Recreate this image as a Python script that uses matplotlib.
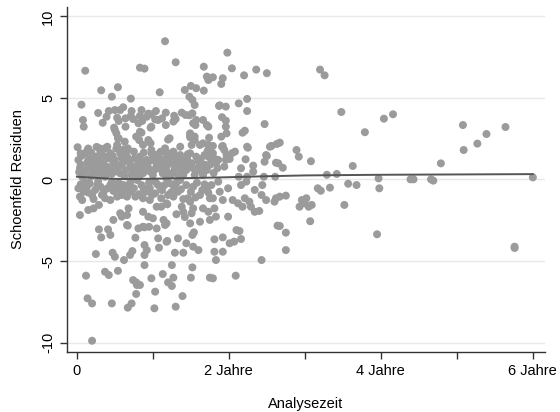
import matplotlib
matplotlib.use("Agg")
import matplotlib.pyplot as plt
import numpy as np

# ---- data (Analysezeit in Jahren, Schoenfeld-Residuen) ----
punkte_oben = [
    (0.11, 6.67), (1.16, 8.48), (1.30, 7.19), (0.83, 6.86), (0.89, 6.80), (1.67, 6.92), (1.98, 7.78),
    (2.04, 6.82), (2.36, 6.74), (2.50, 6.52), (2.20, 6.39), (1.71, 6.31), (1.79, 6.27), (1.92, 6.21),
    (1.90, 5.86), (1.42, 5.49), (1.50, 5.74), (1.57, 5.60), (1.67, 5.45), (1.09, 5.35), (0.54, 5.66),
    (0.32, 5.47), (0.46, 5.08), (0.71, 4.96), (0.06, 4.59), (1.48, 5.08), (1.52, 4.88), (1.55, 4.57),
    (2.13, 4.67), (2.24, 4.94), (2.24, 4.20), (1.88, 4.55), (1.96, 4.47), (0.28, 4.08), (0.34, 3.48),
    (0.42, 4.20), (0.50, 4.26), (0.57, 4.26), (0.61, 4.43), (0.49, 3.18), (0.50, 3.04), (0.53, 3.79),
    (0.55, 3.59), (0.64, 3.75), (0.64, 3.24), (0.71, 3.90), (0.74, 3.71), (0.72, 4.20), (0.83, 3.90),
    (0.85, 2.87), (0.86, 3.59), (0.94, 4.04), (0.98, 4.00), (1.04, 4.20), (1.03, 3.69), (0.97, 3.18),
    (0.97, 2.22), (1.17, 4.10), (1.17, 3.34), (1.12, 3.75), (1.22, 2.53), (1.28, 3.91), (1.30, 3.71),
    (1.38, 4.10), (1.43, 3.96), (1.48, 3.94), (1.52, 4.06), (1.56, 3.34), (1.57, 3.65), (1.66, 3.65),
    (1.71, 3.34), (1.49, 2.83), (1.49, 2.59), (1.55, 2.63), (1.62, 2.12), (1.66, 2.22), (1.74, 2.56),
    (1.74, 1.98), (1.87, 4.51), (1.91, 3.82), (1.96, 3.61), (1.96, 3.24), (1.97, 2.83), (1.90, 2.63),
    (1.91, 2.01), (2.18, 2.87), (2.21, 2.99), (2.47, 3.40), (2.54, 2.01), (2.63, 2.18), (0.01, 1.98),
    (0.08, 3.65), (0.09, 3.24), (0.85, 4.26), (0.92, 3.85), (1.07, 3.65), (1.27, 3.55), (1.53, 3.45),
    (1.73, 3.24), (0.83, 2.93), (0.98, 3.24), (1.20, 2.45), (0.94, 2.42), (1.73, 6.10), (0.39, 3.85),
    (0.81, 3.45), (0.54, 2.53), (0.52, 2.83), (0.78, 2.63), (0.82, 2.42),
]

punkte_band_pos = [
    (0.55, 2.53), (0.63, 2.32), (0.53, 2.12), (0.67, 1.91), (0.11, 1.61), (0.20, 1.40), (0.31, 1.71),
    (0.37, 1.91), (0.44, 1.61), (0.13, 0.99), (0.24, 0.99), (0.33, 1.09), (0.39, 0.79), (0.48, 0.99),
    (0.57, 1.61), (0.66, 1.40), (0.75, 1.71), (0.83, 1.20), (0.04, 0.69), (0.09, 0.38), (0.22, 0.58),
    (0.31, 0.48), (0.44, 0.58), (0.53, 0.69), (0.64, 0.58), (0.77, 0.69), (0.07, 0.17), (0.18, 0.17),
    (0.37, 0.17), (0.57, 0.38), (0.72, 0.28), (0.87, 2.12), (0.98, 1.81), (1.49, 2.73), (1.55, 2.42),
    (1.73, 2.12), (1.51, 2.12), (1.36, 2.01), (1.16, 1.91), (0.83, 1.40), (0.92, 1.20), (1.03, 1.50),
    (1.09, 1.09), (1.20, 1.61), (1.25, 1.20), (1.31, 1.40), (1.40, 1.09), (1.49, 1.61), (1.57, 1.40),
    (1.68, 1.50), (1.77, 1.20), (0.94, 0.69), (1.07, 0.69), (1.18, 0.79), (1.29, 0.69), (1.36, 0.89),
    (1.44, 0.58), (1.53, 0.69), (1.62, 0.79), (1.71, 0.58), (0.87, 0.38), (1.00, 0.28), (1.13, 0.38),
    (1.24, 0.28), (1.40, 0.28), (1.55, 0.28), (1.66, 0.28), (1.79, 1.61), (1.73, 1.40), (1.81, 1.28),
    (2.04, 1.61), (2.01, 1.26), (2.08, 1.71), (2.24, 2.01), (2.22, 1.24), (2.50, 1.44), (2.65, 0.99),
    (1.79, 2.06), (1.92, 2.06), (1.94, 1.81), (1.97, 1.50), (1.96, 1.20), (1.86, 1.20), (1.94, 0.79),
    (2.25, 1.95), (2.16, 0.69), (2.32, 0.85), (2.32, 0.48), (2.47, 1.09), (2.49, 1.50), (2.56, 2.06),
    (2.62, 1.03), (2.71, 0.72), (2.13, 0.17), (2.24, 0.17), (2.46, 0.17), (2.61, 0.17),
    (0.02, 1.20), (0.05, 0.90), (0.15, 1.20), (0.17, 0.75), (0.27, 1.30), (0.28, 0.30), (0.35, 1.45),
    (0.42, 1.30), (0.46, 0.35), (0.50, 1.20), (0.52, 1.90), (0.60, 1.00), (0.62, 1.85), (0.70, 0.95),
    (0.74, 0.50), (0.80, 0.90), (0.82, 0.15), (0.90, 1.00), (0.96, 0.50), (1.05, 0.90), (1.10, 1.70),
    (1.15, 0.55), (1.22, 1.00), (1.27, 0.45), (1.33, 1.15), (1.38, 0.50), (1.45, 1.30), (1.48, 0.90),
    (1.60, 1.10), (1.64, 0.50), (1.75, 0.90), (1.80, 0.40), (1.85, 0.70), (0.26, 2.00), (0.15, 1.90),
    (0.05, 1.60), (0.26, 1.40), (0.30, 1.91), (0.40, 2.01), (0.43, 1.40), (0.54, 1.91), (0.65, 1.71),
    (0.14, 1.81), (0.16, 1.03), (0.26, 0.95), (0.98, 1.61), (1.05, 1.50), (1.18, 1.56), (1.27, 1.71),
    (1.36, 1.50), (1.43, 1.30),
    (0.03, 0.45), (0.06, 1.45), (0.12, 0.55), (0.19, 1.65), (0.21, 0.35), (0.29, 0.85), (0.34, 0.65),
    (0.36, 1.20), (0.41, 0.45), (0.47, 1.45), (0.51, 0.50), (0.56, 0.85), (0.59, 1.35), (0.63, 0.20),
    (0.68, 1.15), (0.71, 0.75), (0.76, 1.30), (0.79, 0.35), (0.86, 0.70), (0.88, 1.65), (0.93, 0.95),
    (0.99, 1.20), (1.02, 0.60), (1.08, 1.35), (1.12, 0.95), (1.16, 1.25), (1.20, 0.40), (1.24, 1.50),
    (1.31, 0.95), (1.34, 0.25), (1.42, 0.80), (1.46, 1.55), (1.51, 1.00), (1.58, 0.65), (1.63, 1.25),
    (1.69, 0.90), (1.72, 1.75), (1.83, 1.00),
]

punkte_band_neg = [
    (1.86, -0.13), (1.99, -0.54), (1.88, -0.75), (2.16, -0.34), (2.23, -0.13), (2.34, -0.64),
    (2.44, -0.34), (2.43, -0.95), (2.49, -1.26), (2.60, -1.36), (2.62, -1.15), (2.75, -0.99),
    (1.79, -1.15), (1.92, -1.26), (2.05, -1.26), (2.12, -1.46), (2.18, -1.67), (2.27, -1.36),
    (2.34, -1.98), (2.40, -1.93), (2.21, -1.15), (2.29, -1.67), (1.99, -2.28), (1.83, -2.28),
    (1.81, -1.77), (1.46, -1.15), (1.49, -1.36), (1.27, -1.05), (1.33, -0.75), (1.20, -0.95),
    (1.11, -1.15), (0.96, -1.26), (0.87, -1.15), (1.03, -0.85), (0.96, -0.54), (1.09, -0.44),
    (1.22, -0.23), (1.44, -0.34), (1.53, -0.44), (1.71, -0.54), (1.77, -0.34), (1.62, -0.95),
    (1.75, -1.15), (1.03, -0.13), (1.18, 0.07), (1.36, -0.03), (0.85, -0.34), (0.91, -0.75),
    (0.04, -1.05), (0.07, -1.26), (0.02, -0.54), (0.13, -0.44), (0.31, -0.44), (0.44, -0.34),
    (0.61, -0.34), (0.75, -0.54), (0.79, -0.03), (0.24, -0.64), (0.20, -0.95), (0.66, -1.05),
    (0.72, -0.75), (0.37, -1.15), (0.44, -1.26), (0.53, -1.05), (0.59, -0.95), (0.10, -0.15),
    (0.28, -0.10), (0.48, -0.70), (0.55, -0.20), (0.68, -0.45), (0.82, -0.90), (0.95, -0.20),
    (1.12, -0.65), (1.28, -0.50), (1.40, -1.20), (1.58, -0.20), (1.65, -0.65), (0.15, -0.80),
    (0.35, -0.80),
    (0.05, -0.30), (0.09, -0.75), (0.17, -0.25), (0.22, -1.20), (0.27, -0.35), (0.33, -0.95),
    (0.40, -0.55), (0.46, -0.15), (0.51, -0.45), (0.57, -0.65), (0.63, -0.80), (0.70, -0.20),
    (0.77, -1.05), (0.88, -0.55), (0.99, -0.95), (1.06, -0.30), (1.15, -0.35), (1.24, -0.80),
    (1.31, -0.20), (1.37, -0.60), (1.50, -0.75), (1.56, -1.10), (1.68, -0.30), (1.73, -0.80),
]

punkte_unten = [
    (0.04, -2.18), (0.15, -1.87), (0.22, -1.77), (0.29, -1.56), (0.68, -1.77), (0.48, -2.48),
    (0.59, -2.28), (0.66, -2.18), (0.29, -3.06), (0.32, -3.55), (0.41, -3.06), (0.44, -3.40),
    (0.67, -2.83), (0.77, -3.57), (0.81, -3.00), (0.57, -2.07), (0.66, -2.79), (0.89, -2.93),
    (1.38, -1.67), (1.40, -1.98), (1.31, -2.13), (1.66, -1.77), (1.73, -1.98), (1.19, -1.52),
    (1.05, -1.67), (0.87, -1.98), (0.94, -2.28), (1.00, -2.38), (0.87, -2.90), (0.95, -2.90),
    (1.05, -3.00), (1.14, -2.48), (1.16, -2.79), (1.51, -2.07), (1.53, -1.77), (1.49, -2.69),
    (1.62, -2.59), (1.75, -2.48), (1.54, -3.24), (1.52, -3.40), (1.33, -3.61), (1.19, -3.77),
    (1.07, -3.61), (1.08, -4.18), (0.89, -4.02), (0.89, -4.63), (0.92, -4.33), (1.44, -3.91),
    (1.53, -4.12), (1.60, -4.33), (1.29, -4.49), (1.40, -4.49), (1.11, -1.67), (1.18, -1.46),
    (1.18, -2.69), (1.18, -3.82), (1.42, -2.30), (1.81, -3.67), (1.92, -3.55), (2.16, -3.65),
    (2.07, -3.81), (2.01, -3.91), (2.10, -3.10), (2.14, -3.16), (2.64, -2.83), (2.75, -3.26),
    (1.92, -4.43), (1.81, -4.43), (1.83, -4.94), (2.75, -4.33), (2.43, -4.94), (2.09, -5.90),
    (1.79, -6.06), (2.93, -1.67), (3.00, -1.46), (3.09, -1.56), (3.05, -1.67), (3.52, -1.56),
    (3.07, -2.56), (3.95, -3.36), (2.67, -2.85),
    (0.98, -6.06), (1.13, -5.80), (1.27, -6.02), (1.20, -6.31), (1.25, -6.53), (1.03, -6.88),
    (1.39, -7.15), (1.02, -7.90), (1.30, -7.80), (1.50, -6.02), (1.52, -5.39), (1.75, -6.02),
    (1.25, -5.25), (0.89, -5.25), (0.83, -6.47), (0.20, -9.89), (0.14, -7.29), (0.20, -7.60),
    (0.46, -7.60), (0.67, -7.86), (0.72, -7.60), (0.78, -7.02), (0.12, -5.90), (0.37, -5.66),
    (0.42, -5.86), (0.54, -5.60), (0.74, -6.17), (0.79, -6.47), (0.25, -4.57), (0.47, -4.49),
    (0.50, -4.74), (0.62, -4.94), (0.70, -4.63), (0.73, -4.39), (0.78, -6.31),
]

punkte_rechts = [
    (3.20, 6.74), (3.26, 6.39), (3.48, 4.14), (3.79, 2.90), (4.04, 3.73), (4.16, 4.00), (5.08, 3.34),
    (5.09, 1.81), (5.27, 2.20), (5.39, 2.79), (5.64, 3.22), (4.79, 0.99), (3.63, 0.83), (3.08, 1.12),
    (2.89, 1.81), (2.92, 1.40), (2.67, 2.26), (3.29, 0.29), (3.42, 0.34), (3.57, -0.26), (3.68, -0.34),
    (3.97, 0.07), (3.98, -0.54), (4.39, 0.01), (4.43, 0.01), (4.66, 0.01), (4.69, -0.07), (6.00, 0.13),
    (3.17, -0.54), (3.21, -0.69), (3.33, -0.50), (2.67, -1.05), (3.02, -1.15), (2.96, -1.26),
    (5.76, -4.12), (5.76, -4.20),
]

glaettung_x = [0.0, 0.25, 0.5, 0.75, 1.0, 1.5, 2.0, 2.5, 3.0, 3.5, 4.0, 4.5, 5.0, 5.5, 6.0]
glaettung_y = [0.17, 0.10, 0.04, 0.03, 0.05, 0.09, 0.14, 0.20, 0.25, 0.27, 0.29, 0.30, 0.31, 0.32, 0.33]

x_ticks = [0, 1, 2, 3, 4, 5, 6]
x_ticklabels = ["0", "", "2 Jahre", "", "4 Jahre", "", "6 Jahre"]
y_ticks = [-10, -5, 0, 5, 10]
y_ticklabels = ["-10", "-5", "0", "5", "10"]

# ---- drawing ----
plt.rcParams['font.family'] = ['Liberation Sans', 'DejaVu Sans']
fs = 10.5

fig = plt.figure(figsize=(5.6, 4.12), dpi=100)
W, H = 560, 412
ax = fig.add_axes([67 / W, 1 - 352 / H, (545 - 67) / W, (352 - 7) / H])

pts = np.array(punkte_oben + punkte_band_pos + punkte_band_neg + punkte_unten + punkte_rechts)
ax.scatter(pts[:, 0], pts[:, 1], s=33, color='#9b9b9b', edgecolors='none', zorder=2)
ax.plot(glaettung_x, glaettung_y, color='#555555', lw=1.4, zorder=3)

ax.set_xlim(-0.13, 6.16)
ax.set_ylim(-10.58, 10.58)
ax.set_xticks(x_ticks)
ax.set_xticklabels(x_ticklabels, fontsize=fs)
ax.set_yticks(y_ticks)
ax.set_yticklabels(y_ticklabels, fontsize=fs, rotation=90, va='center')
ax.tick_params(axis='both', length=5, width=1, color='#333333', pad=3.5)
ax.grid(axis='y', color='#e8e8e8', lw=1)
ax.set_axisbelow(True)
for s in ['top', 'right']:
    ax.spines[s].set_visible(False)
for s in ['left', 'bottom']:
    ax.spines[s].set_color('#333333')
    ax.spines[s].set_linewidth(1)

ax.set_xlabel("Analysezeit", fontsize=fs, labelpad=14)
ax.set_ylabel("Schoenfeld Residuen", fontsize=fs, labelpad=12)

fig.savefig("out.png", dpi=100, facecolor='white')
